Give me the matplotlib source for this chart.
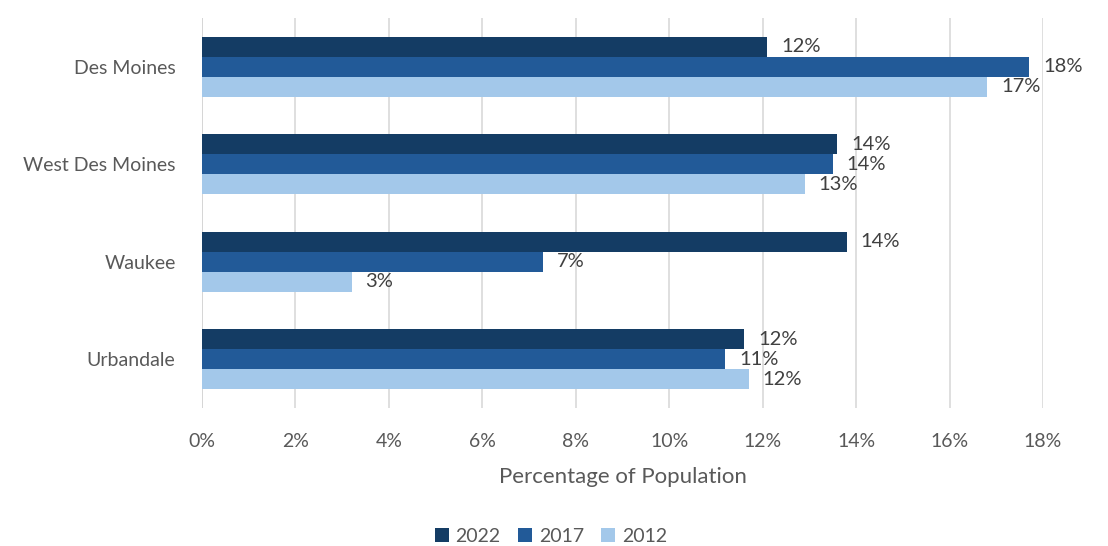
import numpy as np
import matplotlib.pyplot as plt

plt.rcParams['font.family'] = ['Lato', 'DejaVu Sans']

cities = ['Des Moines', 'West Des Moines', 'Waukee', 'Urbandale']
years = ['2022', '2017', '2012']
v2022 = [12.1, 13.6, 13.8, 11.6]
v2017 = [17.7, 13.5, 7.3, 11.2]
v2012 = [16.8, 12.9, 3.2, 11.7]
colors = ['#143C64', '#225A98', '#A3C8EA']
text_col = '#595959'

fig = plt.figure(figsize=(11.08, 5.46), dpi=100)
ax = fig.add_axes([202 / 1108, 1 - 408 / 546, (1043 - 202) / 1108, 390 / 546])

y = np.arange(len(cities))
h = 0.205
for i, (vals, c) in enumerate(zip([v2022, v2017, v2012], colors)):
    pos = y + (i - 1) * h
    ax.barh(pos, vals, height=h, color=c, label=years[i], zorder=3)
    for p, v in zip(pos, vals):
        ax.text(v + 0.3, p, f'{round(v):.0f}%', va='center', ha='left',
                fontsize=14.5, color='#404040', zorder=4)

ax.set_xlim(0, 18)
ax.set_ylim(3.5, -0.5)
ax.set_xticks(np.arange(0, 19, 2))
ax.set_xticklabels([f'{t}%' for t in range(0, 19, 2)])
ax.set_yticks(y)
ax.set_yticklabels(cities)
ax.tick_params(length=0, labelsize=14, colors=text_col)
ax.tick_params(axis='x', pad=18)
ax.tick_params(axis='y', pad=19)
ax.grid(axis='x', color='#D9D9D9', lw=1.2, zorder=0)
for s in ax.spines.values():
    s.set_visible(False)
ax.axvline(0, color='#BFBFBF', lw=1.2, zorder=1)

ax.set_xlabel('Percentage of Population', fontsize=16, color=text_col, labelpad=12)

ax.legend(loc='center', bbox_to_anchor=(551 / 1108, 1 - 536 / 546),
          bbox_transform=fig.transFigure, ncol=3, frameon=False,
          fontsize=14, labelcolor=text_col, handlelength=0.7, handleheight=0.7,
          handletextpad=0.35, columnspacing=0.9)

fig.savefig('out.png', dpi=100, facecolor='white')
